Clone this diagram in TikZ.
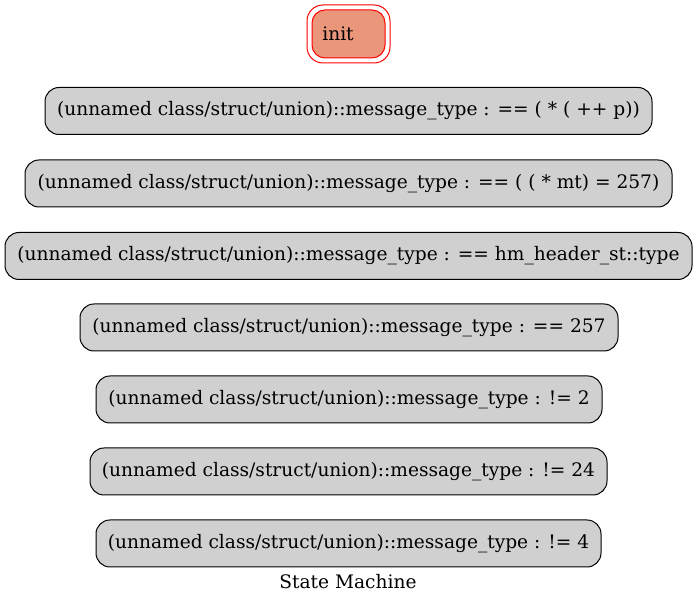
\documentclass[tikz,border=0pt]{standalone}
\usepackage{fontspec}
\setmainfont{DejaVu Serif}
\definecolor{boxgray}{HTML}{D0D0D0}
\definecolor{initfill}{HTML}{E9967A}
\tikzset{
  txt/.style={font=\fontsize{18.6}{21}\selectfont},
  statebox/.style={draw=black, line width=1pt, fill=boxgray, rounded corners=14pt,
    minimum height=47pt, inner sep=0pt, txt},
  initbox/.style={draw=red, line width=1pt, fill=initfill, rounded corners=13pt,
    minimum width=73pt, minimum height=48pt, inner sep=0pt},
}
\begin{document}
\begin{tikzpicture}[x=1pt,y=1pt]
\useasboundingbox (0,0) rectangle (697,604);
\fill[white] (0,0) rectangle (697,604);
% init (double border)
\draw[red, line width=1pt, rounded corners=16pt] (307,541) rectangle (390,599);
\node[initbox] (init) at (348.5,570) {};
\node[txt, inner sep=0pt] (initlabel) at (338,570) {init};
\node[statebox, minimum width=607pt] (s1) at (348.5,493) {(unnamed class/struct/union)::message\_type : == ( * ( ++ p))};
\node[statebox, minimum width=647pt] (s2) at (348.5,420.5) {(unnamed class/struct/union)::message\_type : == ( ( * mt) = 257)};
\node[statebox, minimum width=687pt] (s3) at (348.5,348) {(unnamed class/struct/union)::message\_type : == hm\_header\_st::type};
\node[statebox, minimum width=538pt] (s4) at (349,276.5) {(unnamed class/struct/union)::message\_type : == 257};
\node[statebox, minimum width=506pt] (s5) at (349,204.5) {(unnamed class/struct/union)::message\_type : != 2};
\node[statebox, minimum width=517pt] (s6) at (348.5,132.5) {(unnamed class/struct/union)::message\_type : != 24};
\node[statebox, minimum width=505pt] (s7) at (348.5,60.5) {(unnamed class/struct/union)::message\_type : != 4};
\node[txt, inner sep=0pt] (title) at (348,22) {State Machine};
\end{tikzpicture}
\end{document}
